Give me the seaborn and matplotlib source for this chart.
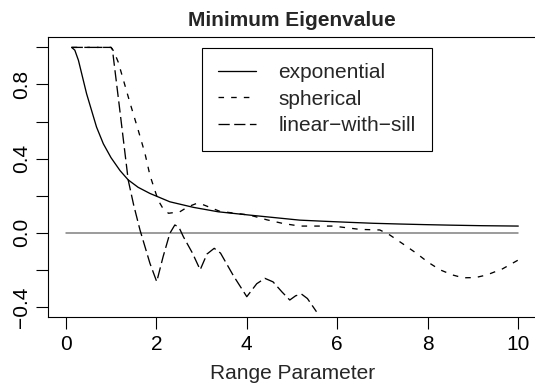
"""
Minimum eigenvalue of the correlation matrix vs. range parameter
for three covariance models (R base-graphics look, drawn with seaborn).
"""

import numpy as np
import pandas as pd
import matplotlib
matplotlib.use("Agg")
import matplotlib.pyplot as plt
import seaborn as sns

# values
exp_x = [0.13, 0.20, 0.28, 0.35, 0.46, 0.57, 0.68, 0.83, 1.00, 1.20, 1.38,
         1.60, 1.86, 2.30, 2.82, 3.37, 4.07, 4.60, 5.17, 5.70, 6.28, 6.80,
         7.39, 7.90, 8.49, 9.20, 10.0]
exp_y = [1.000, 0.985, 0.930, 0.860, 0.750, 0.660, 0.570, 0.480, 0.405,
         0.335, 0.285, 0.245, 0.212, 0.167, 0.137, 0.113, 0.095, 0.082,
         0.068, 0.062, 0.056, 0.051, 0.047, 0.044, 0.041, 0.038, 0.036]

sph_x = [0.13, 1.00, 1.06, 1.16, 1.42, 1.60, 1.75, 1.86, 2.04, 2.15, 2.27,
         2.52, 2.70, 2.89, 3.05, 3.41, 3.75, 4.07, 4.44, 4.80, 5.17, 5.91,
         6.50, 6.94, 7.16, 7.45, 7.75, 8.00, 8.27, 8.55, 8.78, 9.05, 9.30,
         9.65, 10.0]
sph_y = [1.000, 1.000, 0.980, 0.920, 0.700, 0.554, 0.428, 0.310, 0.176,
         0.130, 0.105, 0.113, 0.140, 0.158, 0.150, 0.115, 0.105, 0.095,
         0.070, 0.050, 0.036, 0.036, 0.018, 0.015, -0.012, -0.060, -0.111,
         -0.158, -0.200, -0.228, -0.243, -0.242, -0.228, -0.195, -0.147]

lin_x = [0.13, 1.00, 1.03, 1.18, 1.38, 1.50, 1.64, 1.86, 2.01, 2.15, 2.30,
         2.41, 2.50, 2.60, 2.80, 2.97, 3.12, 3.28, 3.42, 3.70, 4.00, 4.22,
         4.40, 4.58, 4.78, 4.95, 5.08, 5.21, 5.34, 5.54]
lin_y = [1.000, 1.000, 0.990, 0.690, 0.284, 0.150, 0.015, -0.165, -0.264,
         -0.130, -0.003, 0.042, 0.030, -0.022, -0.110, -0.200, -0.115,
         -0.084, -0.110, -0.230, -0.345, -0.275, -0.246, -0.265, -0.320,
         -0.363, -0.340, -0.331, -0.355, -0.426]

model_names = ["exponential", "spherical", "linear\u2212with\u2212sill"]

x_ticks = [0, 2, 4, 6, 8, 10]
y_ticks = [-0.4, -0.2, 0.0, 0.2, 0.4, 0.6, 0.8, 1.0]
y_labels = ["\u22120.4", "", "0.0", "", "0.4", "", "0.8", ""]

sns.set_style("ticks")
plt.rcParams["font.family"] = ["Liberation Sans", "DejaVu Sans"]
plt.rcParams["axes.linewidth"] = 0.8

fig = plt.figure(figsize=(5.35, 3.86), dpi=100)
ax = fig.add_axes([0.0897, 0.18, 0.9129, 0.7241])

df_exp = pd.DataFrame({"x": exp_x, "y": exp_y})
df_sph = pd.DataFrame({"x": sph_x, "y": sph_y})
df_lin = pd.DataFrame({"x": lin_x, "y": lin_y})

# reference line at zero
ax.plot([0, 10], [0, 0], color="#808080", lw=1.1, zorder=1)

sns.lineplot(data=df_exp, x="x", y="y", ax=ax, color="black", lw=0.95,
             label=model_names[0], sort=False, estimator=None)
sns.lineplot(data=df_sph, x="x", y="y", ax=ax, color="black", lw=0.95,
             linestyle=(0, (4.2, 5.4)), label=model_names[1], sort=False,
             estimator=None)
sns.lineplot(data=df_lin, x="x", y="y", ax=ax, color="black", lw=0.95,
             linestyle=(0, (8.5, 3.4)), label=model_names[2], sort=False,
             estimator=None)

ax.set_xlim(-0.393, 10.4)
ax.set_ylim(-0.452, 1.056)
ax.set_xticks(x_ticks)
ax.set_xticklabels([str(t) for t in x_ticks])
ax.set_yticks(y_ticks)
ax.set_yticklabels(y_labels, rotation=90, va="center")
ax.tick_params(axis="both", direction="out", length=8.5, width=0.8,
               labelsize=15, colors="black")
ax.tick_params(axis="x", pad=5)
ax.tick_params(axis="y", pad=4)
for s in ax.spines.values():
    s.set_visible(True)
    s.set_color("black")

ax.set_xlabel("Range Parameter", fontsize=15, labelpad=7)
ax.set_ylabel("")
ax.set_title("Minimum Eigenvalue", fontsize=15, fontweight="bold", pad=8)

leg = ax.legend(loc="upper left", bbox_to_anchor=(0.316, 0.9617, 0.4697, 0.0),
                mode="expand", borderaxespad=0, fontsize=15, frameon=True,
                fancybox=False, edgecolor="black", framealpha=1,
                handlelength=1.85, handletextpad=1.05, borderpad=0.75,
                labelspacing=0.35)
leg.get_frame().set_linewidth(0.8)

fig.savefig("out.png", dpi=100)
plt.close(fig)
